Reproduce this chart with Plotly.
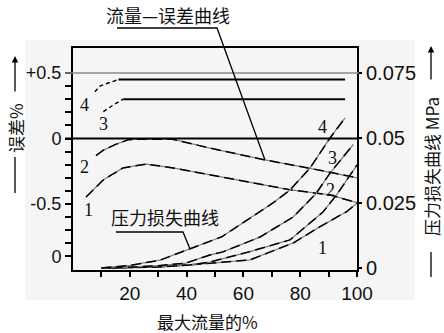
import plotly.graph_objects as go

W, H = 444, 333
ML, MR, MT, MB = 73, 87, 48, 63
PW, PH = W - ML - MR, H - MT - MB

X_RANGE = [0, 100]
ERR_RANGE = [-1.004, 0.691]
P_RANGE = [-0.00077, 0.0846]

# ---- flow-error curves (error %, vs % of maximum flow) ----
err1_x = [4.6, 10.6, 17.6, 25.7, 35.2, 44.7, 52.8, 76.0, 90.5, 100]
err1_y = [-0.447, -0.317, -0.225, -0.195, -0.225, -0.263, -0.294, -0.39, -0.431, -0.49]
err2_x = [8.1, 10.6, 15.0, 19.4, 23.0, 35.0, 48.2, 67.6, 83.5, 100]
err2_y = [-0.13, -0.09, -0.045, -0.01, -0.005, -0.005, -0.073, -0.164, -0.228, -0.30]
err3_x = [10.7, 14.2, 17.7, 95.8]
err3_y = [0.205, 0.256, 0.30, 0.30]
err4_x = [7.7, 9.5, 11.9, 16.0, 95.8]
err4_y = [0.357, 0.40, 0.42, 0.45, 0.45]

# ---- pressure-loss curves (MPa, vs % of maximum flow) ----
p1_x = [10, 30, 48.2, 62.3, 77.5, 87, 96.4, 100]
p1_y = [0, 0.0004, 0.0018, 0.0031, 0.0096, 0.0159, 0.0217, 0.0249]
p2_x = [12, 30, 41.2, 48.2, 62.3, 76.4, 88, 92.8, 100]
p2_y = [0, 0.0004, 0.0012, 0.0023, 0.0063, 0.0108, 0.0215, 0.0281, 0.0396]
p3_x = [14, 20, 30, 39.8, 48.2, 52.8, 65.8, 77.5, 85.5, 90.5, 98.7]
p3_y = [0, 0.0003, 0.0009, 0.0019, 0.0050, 0.0062, 0.0119, 0.0196, 0.0285, 0.0365, 0.0475]
p4_x = [10, 20, 30.6, 41.2, 52.4, 70.4, 76.4, 83.5, 90.5, 95.8]
p4_y = [0, 0.0010, 0.0030, 0.0073, 0.0120, 0.0250, 0.0300, 0.0385, 0.0500, 0.0577]

# ---- axis ticks ----
x_tickvals = [10, 20, 30, 40, 50, 60, 70, 80, 90, 100]
x_ticktext = ["", "20", "", "40", "", "60", "", "80", "", "100"]
err_tickvals = [0.5, 0.4, 0.3, 0.2, 0.1, 0.0, -0.1, -0.2, -0.3, -0.4, -0.5, -0.6, -0.7, -0.8, -0.9]
err_ticktext = ["+0.5", "", "", "", "", "0", "", "", "", "", "-0.5", "", "", "", "0"]
p_tickvals = [0, 0.025, 0.05, 0.075]
p_ticktext = ["0", "0.025", "0.05", "0.075"]

# curve number labels: (text, x, value)
err_labels = [("4", 4.2, 0.256), ("3", 10.9, 0.11), ("2", 3.9, -0.218), ("1", 5.3, -0.546)]
p_labels = [("4", 88.0, 0.0542), ("3", 91.2, 0.0423), ("2", 90.5, 0.0300), ("1", 87.7, 0.0077)]

CJK = "Noto Sans CJK SC, sans-serif"
NUM = "Liberation Sans, Arial, sans-serif"
SERIF = "Liberation Serif, DejaVu Serif, serif"
INK = "#111111"


def fx(px):
    return (px - ML) / PW


def fy(py):
    return (H - MB - py) / PH


def dx(v):
    return (v - X_RANGE[0]) / (X_RANGE[1] - X_RANGE[0])


def de(v):
    return (v - ERR_RANGE[0]) / (ERR_RANGE[1] - ERR_RANGE[0])


def dp(v):
    return (v - P_RANGE[0]) / (P_RANGE[1] - P_RANGE[0])


fig = go.Figure()


def scan_line(xs, ys, yaxis):
    # grey stroke with long black dashes over it
    fig.add_trace(go.Scatter(x=xs, y=ys, yaxis=yaxis, mode="lines",
                             line=dict(color="#808080", width=1.3), hoverinfo="skip"))
    fig.add_trace(go.Scatter(x=xs, y=ys, yaxis=yaxis, mode="lines",
                             line=dict(color="#000000", width=1.5, dash="10px,5px"), hoverinfo="skip"))


# error curves 1, 2
scan_line(err1_x, err1_y, "y")
scan_line(err2_x, err2_y, "y")

# error curves 3, 4: dashed rise then solid plateau
for xs, ys, k in [(err3_x, err3_y, 2), (err4_x, err4_y, 3)]:
    fig.add_trace(go.Scatter(x=xs[:k + 1], y=ys[:k + 1], mode="lines",
                             line=dict(color="#000000", width=1.4, dash="4px,3px"), hoverinfo="skip"))
    fig.add_trace(go.Scatter(x=xs[k:], y=ys[k:], mode="lines",
                             line=dict(color="#000000", width=2), hoverinfo="skip"))

# pressure-loss curves
for xs, ys in [(p1_x, p1_y), (p2_x, p2_y), (p3_x, p3_y), (p4_x, p4_y)]:
    scan_line(xs, ys, "y2")

RT_X = 431  # x position of the right-hand title column

shapes = [
    # faint panel behind the drawing
    dict(type="rect", xref="paper", yref="paper", layer="below",
         x0=fx(25), x1=fx(415), y0=fy(300), y1=fy(40),
         fillcolor="#f5f5f5", line=dict(width=0)),
    # +0.5 reference line (grey) and zero line (black)
    dict(type="line", xref="paper", yref="paper", x0=fx(65), x1=fx(359), y0=de(0.5), y1=de(0.5),
         line=dict(color="#8a8a8a", width=1.5)),
    dict(type="line", xref="paper", yref="paper", x0=fx(65), x1=fx(358), y0=de(0.0), y1=de(0.0),
         line=dict(color="#000000", width=2)),
    # leader to the flow-error curve
    dict(type="path", xref="paper", yref="paper",
         path=f"M {fx(117)},{fy(28)} L {fx(217)},{fy(28)} L {dx(err2_x[7])},{de(err2_y[7])}",
         line=dict(color="#000000", width=1.3)),
    # leader to the pressure-loss curve
    dict(type="path", xref="paper", yref="paper",
         path=f"M {fx(116)},{fy(232)} L {fx(183)},{fy(232)} L {dx(p4_x[3])},{dp(p4_y[3])}",
         line=dict(color="#000000", width=1.3)),
    # tails of the side titles
    dict(type="line", xref="paper", yref="paper", x0=fx(15), x1=fx(15), y0=fy(157), y1=fy(193),
         line=dict(color="#000000", width=1.3)),
    dict(type="line", xref="paper", yref="paper", x0=fx(RT_X), x1=fx(RT_X), y0=fy(252), y1=fy(277),
         line=dict(color="#000000", width=1.3)),
]


def label(text, px, py, size, family=CJK, angle=0):
    return dict(text=text, x=fx(px), y=fy(py), xref="paper", yref="paper",
                xanchor="center", yanchor="middle", textangle=angle, showarrow=False,
                borderpad=0, font=dict(family=family, size=size, color=INK))


annotations = [
    label("流量—误差曲线", 168, 15, 18),
    label("压力损失曲线", 165, 217, 18),
    label("最大流量的%", 207, 321, 17),
    label("误差%", 15, 128, 17, angle=-90),
    label("压力损失曲线 MPa", RT_X, 167, 17, angle=-90),
    # arrows of the side titles
    dict(text="", x=fx(15), y=fy(56), xref="paper", yref="paper", showarrow=True,
         ax=0, ay=37, arrowhead=2, arrowsize=1, arrowwidth=1.3, arrowcolor="#000000"),
    dict(text="", x=fx(RT_X), y=fy(46), xref="paper", yref="paper", showarrow=True,
         ax=0, ay=35, arrowhead=2, arrowsize=1, arrowwidth=1.3, arrowcolor="#000000"),
]
for t, xv, yv in err_labels:
    annotations.append(dict(text=t, x=xv, y=yv, xref="x", yref="y", showarrow=False,
                            xanchor="center", yanchor="middle",
                            font=dict(family=SERIF, size=18, color=INK)))
for t, xv, yv in p_labels:
    annotations.append(dict(text=t, x=xv, y=yv, xref="x", yref="y2", showarrow=False,
                            xanchor="center", yanchor="middle",
                            font=dict(family=SERIF, size=18, color=INK)))

fig.update_layout(
    template="none",
    width=W, height=H,
    margin=dict(l=ML, r=MR, t=MT, b=MB, pad=0),
    paper_bgcolor="white",
    plot_bgcolor="rgba(0,0,0,0)",
    showlegend=False,
    shapes=shapes,
    annotations=annotations,
    xaxis=dict(range=X_RANGE, showgrid=False, zeroline=False,
               showline=True, linecolor="#000000", linewidth=2, mirror=True,
               ticks="outside", ticklen=5, tickwidth=1.5, tickcolor="#000000",
               tickvals=x_tickvals, ticktext=x_ticktext,
               tickfont=dict(family=NUM, size=19, color=INK),
               automargin=False),
    yaxis=dict(range=ERR_RANGE, showgrid=False, zeroline=False,
               showline=True, linecolor="#000000", linewidth=2, mirror=True,
               ticks="outside", ticklen=6, tickwidth=1.5, tickcolor="#000000",
               tickvals=err_tickvals, ticktext=err_ticktext,
               tickfont=dict(family=NUM, size=18, color=INK),
               automargin=False),
    yaxis3=dict(range=ERR_RANGE, overlaying="y", anchor="x", showgrid=False, zeroline=False,
                showline=False, ticks="inside", ticklen=6, tickwidth=1.5, tickcolor="#000000",
                tickvals=err_tickvals, showticklabels=False),
    yaxis2=dict(range=P_RANGE, overlaying="y", side="right", anchor="x",
                showgrid=False, zeroline=False, showline=False,
                ticks="outside", ticklen=4, tickwidth=1.5, tickcolor="#000000",
                tickvals=p_tickvals, ticktext=p_ticktext,
                tickfont=dict(family=NUM, size=20, color=INK),
                automargin=False),
)

fig.write_html("out.html")
